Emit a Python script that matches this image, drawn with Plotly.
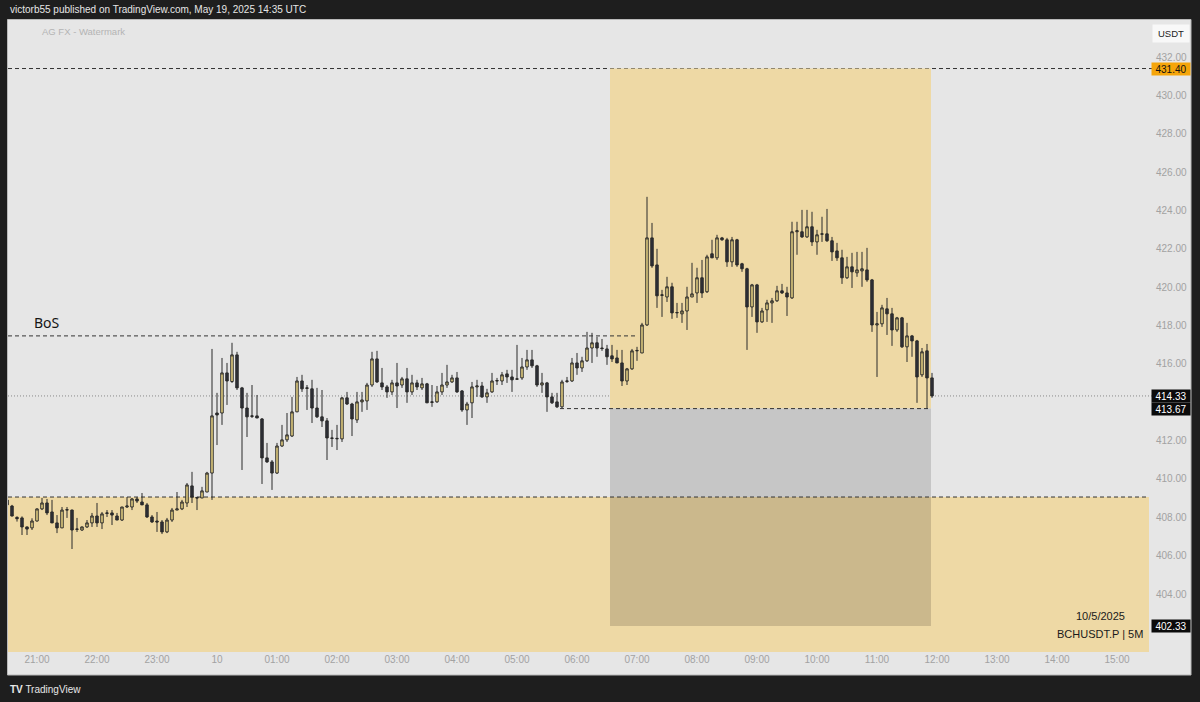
import pandas as pd
import plotly.graph_objects as go

# ---------------- data (BCHUSDT.P, 5m candles) ----------------
start_time = "2025-05-09 20:30"

opens = [408.90, 408.59, 408.00, 407.97, 407.50, 407.45, 407.81, 408.44, 408.75, 408.28,
         407.71, 407.45, 408.38, 408.38, 407.37, 407.34, 407.50, 407.71, 408.07, 407.71,
         408.20, 408.23, 408.07, 407.86, 408.54, 408.54, 408.96, 408.80, 408.65, 408.02,
         407.81, 407.76, 407.24, 407.86, 408.38, 408.44, 408.75, 409.64, 409.04, 409.01,
         409.32, 410.31, 413.44, 413.44, 415.53, 415.08, 416.47, 414.75, 413.70, 413.26,
         413.29, 413.13, 411.10, 410.89, 410.31, 411.72, 412.04, 412.24, 413.50, 415.11,
         414.72, 414.70, 413.70, 413.24, 413.03, 412.14, 412.12, 412.09, 414.23, 413.91,
         413.08, 414.02, 414.07, 414.90, 416.26, 415.01, 414.80, 414.54, 415.01, 414.90,
         415.22, 414.54, 415.01, 414.75, 414.96, 413.99, 414.02, 414.54, 414.90, 415.06,
         415.27, 414.59, 413.60, 413.97, 414.80, 414.85, 414.28, 414.54, 415.11, 415.11,
         415.48, 415.32, 415.20, 415.27, 415.84, 416.21, 415.90, 414.90, 415.01, 414.28,
         414.02, 413.76, 415.08, 415.11, 416.05, 415.79, 416.16, 416.83, 417.10, 416.83,
         416.78, 416.42, 416.31, 416.05, 415.11, 415.74, 416.68, 416.57, 418.03, 422.57,
         421.16, 419.57, 419.49, 420.02, 418.66, 418.61, 418.76, 419.49, 419.70, 420.49,
         419.76, 421.74, 421.53, 422.57, 422.47, 421.32, 422.47, 421.22, 420.96, 418.97,
         420.12, 418.19, 418.82, 419.18, 419.29, 419.81, 419.70, 419.44, 422.89, 422.89,
         422.62, 423.15, 422.36, 422.76, 422.78, 422.42, 421.89, 421.53, 420.49, 421.06,
         420.75, 420.85, 420.90, 420.38, 418.03, 418.09, 418.87, 418.61, 417.77, 418.40,
         416.89, 417.46, 417.20, 415.43, 416.68, 415.27]

highs = [408.95, 408.65, 408.05, 408.05, 407.52, 407.95, 408.47, 409.01, 408.96, 408.91,
         408.12, 408.54, 408.54, 408.40, 407.97, 407.52, 407.86, 408.23, 408.75, 408.28,
         408.38, 408.38, 408.23, 408.54, 409.06, 409.01, 409.06, 409.27, 408.75, 408.12,
         408.28, 407.86, 407.97, 408.49, 409.32, 408.91, 409.79, 410.37, 409.06, 409.59,
         410.37, 416.78, 414.49, 416.31, 416.05, 417.10, 416.63, 414.80, 414.49, 414.90,
         414.38, 413.18, 411.88, 410.99, 411.88, 412.82, 413.44, 414.28, 415.32, 415.43,
         414.90, 415.17, 414.75, 414.64, 413.18, 412.56, 412.82, 414.28, 414.54, 413.97,
         414.54, 414.54, 415.01, 416.63, 416.68, 415.79, 414.90, 415.17, 416.05, 415.32,
         415.79, 415.43, 415.17, 415.27, 415.01, 414.90, 414.85, 415.53, 415.95, 415.43,
         415.58, 414.64, 414.02, 415.06, 415.17, 415.06, 414.70, 415.53, 415.27, 415.58,
         415.69, 415.69, 416.99, 416.31, 416.73, 416.73, 415.95, 415.53, 415.06, 414.49,
         414.49, 415.17, 415.32, 416.31, 416.57, 416.37, 417.67, 417.62, 417.41, 417.30,
         416.99, 416.99, 416.73, 416.73, 415.79, 416.78, 416.89, 418.14, 424.71, 423.35,
         422.00, 419.86, 420.54, 420.23, 419.18, 419.18, 420.02, 421.27, 421.01, 421.42,
         421.69, 422.47, 422.73, 422.62, 422.57, 422.62, 422.52, 421.27, 421.01, 420.17,
         420.17, 418.92, 419.34, 419.44, 420.07, 420.17, 420.02, 423.41, 423.41, 424.03,
         424.03, 423.93, 422.99, 423.67, 424.08, 422.62, 422.31, 421.95, 421.58, 421.79,
         421.84, 421.84, 422.05, 420.43, 418.71, 419.08, 419.44, 418.92, 418.45, 418.45,
         418.14, 417.51, 417.25, 416.83, 417.04, 415.53]

lows = [408.60, 408.05, 407.78, 407.08, 407.08, 407.34, 407.78, 408.38, 408.12, 407.71,
        407.18, 407.45, 407.97, 406.35, 407.24, 407.29, 407.45, 407.50, 407.50, 407.39,
        408.02, 407.60, 407.86, 407.81, 408.49, 408.38, 408.75, 408.65, 407.97, 407.71,
        407.24, 407.13, 407.18, 407.76, 408.38, 408.38, 408.54, 408.75, 408.38, 409.01,
        409.32, 408.91, 411.77, 412.82, 413.86, 415.01, 414.64, 410.47, 412.19, 413.18,
        413.18, 409.74, 410.84, 409.43, 410.26, 411.67, 411.93, 412.19, 413.50, 414.54,
        413.60, 412.92, 413.18, 412.71, 410.99, 411.67, 411.51, 411.93, 413.86, 412.24,
        412.92, 413.50, 413.60, 414.80, 415.01, 414.64, 414.23, 414.38, 413.70, 414.75,
        413.97, 414.38, 414.64, 414.64, 413.97, 413.76, 413.97, 414.38, 414.75, 415.01,
        414.49, 413.50, 412.82, 413.18, 414.28, 414.23, 413.97, 414.49, 414.90, 414.90,
        415.01, 414.54, 415.17, 415.17, 415.69, 415.79, 414.80, 414.49, 413.50, 413.91,
        413.70, 413.70, 415.01, 415.06, 415.43, 415.58, 416.10, 416.05, 416.37, 416.68,
        415.95, 416.10, 416.05, 414.85, 414.90, 415.69, 416.16, 416.57, 417.98, 421.01,
        418.92, 418.45, 419.23, 418.35, 418.40, 418.14, 417.77, 419.49, 419.18, 419.44,
        419.70, 421.53, 421.42, 422.42, 421.06, 421.06, 421.06, 420.80, 416.73, 418.45,
        417.62, 418.14, 418.19, 418.14, 419.23, 419.65, 418.50, 419.39, 421.69, 422.57,
        422.57, 422.15, 421.69, 422.36, 422.36, 421.37, 421.37, 420.17, 420.43, 419.96,
        420.54, 420.02, 420.28, 417.67, 415.32, 417.93, 417.51, 416.94, 417.67, 416.83,
        416.10, 416.37, 413.97, 415.32, 413.67, 414.23]

closes = [408.65, 408.07, 407.93, 407.50, 407.39, 407.81, 408.44, 408.75, 408.23, 407.71,
          407.45, 408.38, 408.40, 407.34, 407.39, 407.50, 407.71, 408.07, 407.71, 408.18,
          408.23, 408.12, 407.86, 408.54, 408.59, 408.96, 408.85, 408.65, 408.02, 407.76,
          407.76, 407.24, 407.86, 408.38, 408.44, 408.80, 409.69, 409.06, 409.01, 409.38,
          410.31, 413.29, 413.34, 415.53, 415.11, 416.47, 414.75, 413.70, 413.24, 413.29,
          413.18, 411.10, 410.89, 410.31, 411.72, 412.04, 412.30, 413.50, 415.11, 414.70,
          414.75, 413.70, 413.24, 413.03, 412.14, 412.12, 412.10, 414.23, 413.91, 413.13,
          414.02, 414.12, 414.90, 416.26, 415.06, 414.80, 414.54, 415.01, 414.85, 415.22,
          414.54, 415.01, 414.80, 414.96, 413.97, 414.02, 414.54, 414.90, 415.06, 415.27,
          414.54, 413.60, 413.91, 414.80, 414.85, 414.28, 414.49, 415.11, 415.13, 415.43,
          415.32, 415.17, 415.22, 415.84, 416.21, 415.90, 414.90, 415.01, 414.28, 413.97,
          413.76, 415.06, 415.11, 416.05, 415.79, 416.16, 416.83, 417.10, 416.83, 416.80,
          416.37, 416.26, 416.05, 415.11, 415.74, 416.68, 416.70, 418.03, 422.57, 421.11,
          419.55, 419.60, 420.02, 418.66, 418.68, 418.76, 419.49, 419.65, 420.49, 419.70,
          421.58, 421.53, 422.57, 422.47, 421.32, 422.47, 421.16, 420.96, 418.97, 420.12,
          418.19, 418.76, 419.18, 419.29, 419.81, 419.70, 419.49, 422.89, 422.94, 422.62,
          423.15, 422.36, 422.73, 422.78, 422.42, 421.84, 421.53, 420.49, 421.06, 420.80,
          420.90, 420.96, 420.38, 418.03, 418.09, 418.92, 418.61, 417.77, 418.40, 416.89,
          417.46, 417.20, 415.32, 416.63, 415.27, 414.33]

# time-axis tick labels
tick_times = ["2025-05-09 21:00", "2025-05-09 22:00", "2025-05-09 23:00", "2025-05-10 00:00",
              "2025-05-10 01:00", "2025-05-10 02:00", "2025-05-10 03:00", "2025-05-10 04:00",
              "2025-05-10 05:00", "2025-05-10 06:00", "2025-05-10 07:00", "2025-05-10 08:00",
              "2025-05-10 09:00", "2025-05-10 10:00", "2025-05-10 11:00", "2025-05-10 12:00",
              "2025-05-10 13:00", "2025-05-10 14:00", "2025-05-10 15:00"]
tick_labels = ["21:00", "22:00", "23:00", "10", "01:00", "02:00", "03:00", "04:00", "05:00",
               "06:00", "07:00", "08:00", "09:00", "10:00", "11:00", "12:00", "13:00",
               "14:00", "15:00"]
# 414.00 sits under the last-price badges in the reference, so it is not shown
price_ticks = [404, 406, 408, 410, 412, 416, 418, 420, 422, 424, 426, 428, 430, 432]

# key levels
level_target = 431.40
level_last = 414.33
level_low = 413.67
level_stop = 402.33
level_zone_top = 409.06
level_bos = 417.46

# position box (time span)
box_start = "2025-05-10 06:33"
box_end = "2025-05-10 11:54"
bos_end = "2025-05-10 06:58"
low_line_start = "2025-05-10 05:43"

# ---------------- figure ----------------
times = pd.date_range(start_time, periods=len(opens), freq="5min")

BG = "#e6e6e6"
TAN = "#eed9a5"
GREY_BOX = "#c6c6c6"
OVERLAP = "#cbb88c"
DARK = "#1e1e1e"
INK = "#2a2a2a"

fig = go.Figure()
fig.add_trace(go.Candlestick(
    x=times, open=opens, high=highs, low=lows, close=closes,
    increasing=dict(line=dict(color=INK, width=1), fillcolor="#f6df8a"),
    decreasing=dict(line=dict(color=INK, width=1), fillcolor="#2e3038"),
    whiskerwidth=0, showlegend=False, hoverinfo="skip",
))

PW = 1141.0
PH = 632.0
shapes = []
# outer light frame (chart + axes panel)
shapes.append(dict(type="rect", xref="paper", yref="paper",
                   x0=-0.5 / PW, x1=1183 / PW, y0=-23 / PH, y1=1 + 0.5 / PH,
                   fillcolor=BG, line=dict(color="#b9b9b9", width=1), layer="below"))
far_left = "2025-05-09 19:00"
far_right = "2025-05-10 17:00"
# demand zone across the chart
shapes.append(dict(type="rect", xref="x", yref="y", x0=far_left, x1=far_right,
                   y0=395, y1=level_zone_top, fillcolor=TAN, line=dict(width=0), layer="below"))
# target (profit) box
shapes.append(dict(type="rect", xref="x", yref="y", x0=box_start, x1=box_end,
                   y0=level_low, y1=level_target, fillcolor=TAN, line=dict(width=0), layer="below"))
# stop box (grey) and its overlap with the zone
shapes.append(dict(type="rect", xref="x", yref="y", x0=box_start, x1=box_end,
                   y0=level_zone_top, y1=level_low, fillcolor=GREY_BOX, line=dict(width=0), layer="below"))
shapes.append(dict(type="rect", xref="x", yref="y", x0=box_start, x1=box_end,
                   y0=level_stop, y1=level_zone_top, fillcolor=OVERLAP, line=dict(width=0), layer="below"))
dash = "4px,3px"
# horizontal levels
shapes.append(dict(type="line", xref="paper", yref="y", x0=0, x1=1.003, y0=level_target, y1=level_target,
                   line=dict(color="#333333", width=1, dash=dash), layer="below"))
shapes.append(dict(type="line", xref="x", yref="y", x0=far_left, x1=far_right,
                   y0=level_zone_top, y1=level_zone_top,
                   line=dict(color="#333333", width=1, dash=dash), layer="below"))
shapes.append(dict(type="line", xref="x", yref="y", x0=far_left, x1=bos_end,
                   y0=level_bos, y1=level_bos,
                   line=dict(color="#333333", width=1, dash=dash), layer="below"))
shapes.append(dict(type="line", xref="x", yref="y", x0=low_line_start, x1=box_end,
                   y0=level_low, y1=level_low,
                   line=dict(color="#333333", width=1, dash=dash), layer="below"))
shapes.append(dict(type="line", xref="paper", yref="y", x0=0, x1=1.003, y0=level_last, y1=level_last,
                   line=dict(color="#8a8a8a", width=1, dash="1px,2px"), layer="below"))

FONT = "Liberation Sans, Arial, sans-serif"
ann = []
# header / footer on the dark page
ann.append(dict(xref="paper", yref="paper", x=0, y=1 + 10 / PH, xanchor="left", yanchor="middle",
                text="victorb55 published on TradingView.com, May 19, 2025 14:35 UTC", showarrow=False,
                font=dict(family=FONT, size=10, color="#e6e6e6")))
ann.append(dict(xref="paper", yref="paper", x=0, y=-(689 - 652) / PH, xanchor="left", yanchor="middle",
                text="<b>TV</b> TradingView", showarrow=False,
                font=dict(family=FONT, size=10, color="#e8e8e8")))
# watermark
ann.append(dict(xref="paper", yref="paper", x=32 / PW, y=(652 - 32) / PH, xanchor="left", yanchor="middle",
                text="AG FX - Watermark", showarrow=False,
                font=dict(family=FONT, size=9.5, color="#b4b4b4")))
# BoS label
ann.append(dict(xref="x", yref="y", x="2025-05-09 20:55", y=418.14, xanchor="left", yanchor="middle",
                text="BoS", showarrow=False, font=dict(family="Noto Sans, sans-serif", size=14, color="#151515")))
# date / symbol
ann.append(dict(xref="paper", yref="paper", x=(1100 - 8) / PW, y=(652 - 616) / PH, xanchor="center",
                yanchor="middle", text="10/5/2025", showarrow=False,
                font=dict(family=FONT, size=11, color="#1a1a1a")))
ann.append(dict(xref="paper", yref="paper", x=(1100 - 8) / PW, y=(652 - 634) / PH, xanchor="center",
                yanchor="middle", text="BCHUSDT.P | 5M", showarrow=False,
                font=dict(family=FONT, size=11, color="#1a1a1a")))
# currency badge
ann.append(dict(xref="paper", yref="paper", x=(1171 - 8) / PW, y=(652 - 33) / PH, xanchor="center",
                yanchor="middle", text="USDT", showarrow=False, bgcolor="#f8f8f8", borderpad=3,
                width=30, font=dict(family=FONT, size=9.5, color="#222222")))
# price labels on the axis
for val, bg, fg in [(level_target, "#f5a50a", "#111111"), (level_last, "#0b0b0b", "#ffffff"),
                    (level_low, "#0b0b0b", "#ffffff"), (level_stop, "#0b0b0b", "#ffffff")]:
    ann.append(dict(xref="paper", yref="y", x=(1151 - 8) / PW, y=val, xanchor="left", yanchor="middle",
                    text=f"{val:.2f}", showarrow=False, bgcolor=bg, width=36, height=10, borderpad=1,
                    font=dict(family=FONT, size=10, color=fg)))

fig.update_layout(
    width=1200, height=702,
    margin=dict(l=8, r=51, t=20, b=50),
    paper_bgcolor=DARK, plot_bgcolor=BG,
    shapes=shapes, annotations=ann,
    showlegend=False,
    xaxis=dict(type="date", range=["2025-05-09 20:31", "2025-05-10 15:32"],
               rangeslider=dict(visible=False), showgrid=False, zeroline=False,
               tickmode="array", tickvals=tick_times, ticktext=tick_labels, ticks="",
               tickfont=dict(family=FONT, size=10, color="#a2a2a2"), showline=False, fixedrange=True),
    yaxis=dict(side="right", range=[400.98, 433.93], showgrid=False, zeroline=False,
               tickmode="array", tickvals=price_ticks, ticktext=[f"{v:.2f}" for v in price_ticks],
               ticks="", ticklabelstandoff=6,
               tickfont=dict(family=FONT, size=10, color="#a2a2a2"), showline=False, fixedrange=True),
)

fig.write_html(
    "out.html",
    config={"displayModeBar": False},
    post_script="document.body.style.margin='0';document.body.style.background='#1e1e1e';",
)
